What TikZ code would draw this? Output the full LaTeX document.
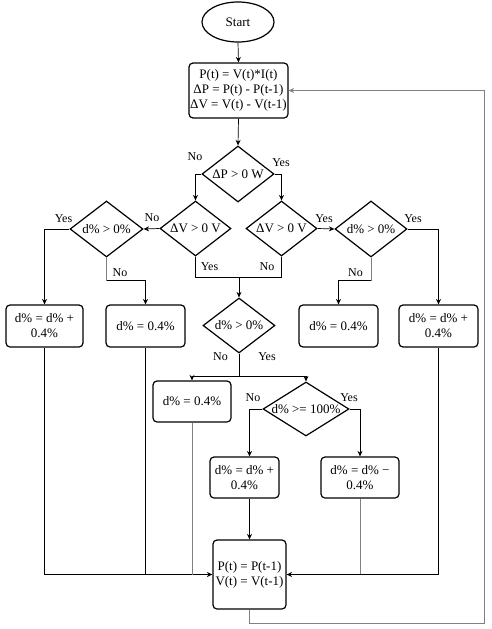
\documentclass[tikz,border=0pt]{standalone}
\usepackage{fontspec}
\setmainfont{Liberation Serif}
\usetikzlibrary{shapes.geometric,arrows.meta,calc}
\begin{document}
\begin{tikzpicture}[x=1pt,y=-1pt,
 box/.style={draw, line width=1.2pt, rounded corners=4pt, align=center, inner sep=0pt, font=\fontsize{13}{15}\selectfont},
 dia/.style={draw, line width=1.2pt, diamond, inner sep=0pt, font=\fontsize{13}{15}\selectfont},
 lab/.style={font=\fontsize{12}{14}\selectfont, inner sep=0pt},
 con/.style={line width=0.7pt, -{Stealth[length=5.5pt,width=5pt]}},
 ln/.style={line width=0.7pt},
 gcon/.style={con, draw=gray},
 gln/.style={ln, draw=gray}
]
\useasboundingbox (0,0) rectangle (491,629);
% nodes
\node[draw, line width=1.2pt, ellipse, minimum width=72pt, minimum height=40pt, inner sep=0pt, font=\fontsize{13}{15}\selectfont] (start) at (238,22) {Start};
\node[box, minimum width=99pt, minimum height=55pt] (b1) at (238.5,90.5) {P(t) = V(t)*I(t)\\ΔP = P(t) - P(t-1)\\ΔV = V(t) - V(t-1)};
\node[dia, minimum width=72pt, minimum height=56pt] (d1) at (238,174) {\makebox[0pt]{ΔP > 0 W}};
\node[dia, minimum width=71pt, minimum height=55pt] (dvl) at (195.5,228.5) {\makebox[0pt]{ΔV > 0 V}};
\node[dia, minimum width=71pt, minimum height=55pt] (dvr) at (281.5,228.5) {\makebox[0pt]{ΔV > 0 V}};
\node[dia, minimum width=73pt, minimum height=56pt] (dl) at (106.5,229) {\makebox[0pt]{d\% > 0\%}};
\node[dia, minimum width=72pt, minimum height=56pt] (dr) at (371,229) {\makebox[0pt]{d\% > 0\%}};
\node[box, minimum width=77pt, minimum height=42pt] (bl1) at (44.5,326) {d\% = d\% +\\0.4\%};
\node[box, minimum width=79pt, minimum height=42pt] (bl2) at (145.5,326) {d\% = 0.4\%};
\node[box, minimum width=79pt, minimum height=42pt] (br1) at (338.5,326) {d\% = 0.4\%};
\node[box, minimum width=79pt, minimum height=42pt] (br2) at (438.5,326) {d\% = d\% +\\0.4\%};
\node[dia, minimum width=72pt, minimum height=55pt] (dc) at (239,325.5) {\makebox[0pt]{d\% > 0\%}};
\node[box, minimum width=78pt, minimum height=41pt] (bc) at (192,401.5) {d\% = 0.4\%};
\node[dia, minimum width=86pt, minimum height=54pt] (d100) at (306,409) {\makebox[0pt]{d\% >= 100\%}};
\node[box, minimum width=69pt, minimum height=41pt] (bd1) at (244.5,477.5) {d\% = d\% +\\0.4\%};
\node[box, minimum width=78pt, minimum height=41pt] (bd2) at (360,477.5) {d\% = d\% −\\0.4\%};
\node[box, minimum width=73pt, minimum height=69pt] (fin) at (249.5,574.5) {P(t) = P(t-1)\\V(t) = V(t-1)};
% labels
\node[lab] (l1) at (195,157) {No};
\node[lab] (l2) at (281,163) {Yes};
\node[lab] (l3) at (63.5,219) {Yes};
\node[lab] (l4) at (152,218) {No};
\node[lab] (l5) at (324,219) {Yes};
\node[lab] (l6) at (413,219) {Yes};
\node[lab] (l7) at (120,273) {No};
\node[lab] (l8) at (209.5,267) {Yes};
\node[lab] (l9) at (267,267) {No};
\node[lab] (l10) at (355.5,273) {No};
\node[lab] (l11) at (220.5,357) {No};
\node[lab] (l12) at (267,357) {Yes};
\node[lab] (l13) at (253,398) {No};
\node[lab] (l14) at (349,398) {Yes};
% connectors
\draw[con] (start.south) -- (b1.north);
\draw[con] (b1.south) -- (d1.north);
\draw[con] (d1.west) -| (dvl.north);
\draw[con] (d1.east) -| (dvr.north);
\draw[con] (dvl.west) -- (dl.east);
\draw[con] (dvr.east) -- (dr.west);
\draw[con] (dl.west) -| (bl1.north);
\draw[gln] (dl.south) -- ++(0,23) coordinate (c1);
\draw[con] (c1) -| (bl2.north);
\draw[gln] (dr.south) -- ++(0,23) coordinate (c2);
\draw[con] (c2) -| (br1.north);
\draw[con] (dr.east) -| (br2.north);
\draw[ln] (dvl.south) -- ++(0,21) coordinate (c3) -| (dvr.south);
\draw[con] (c3 -| dc.north) -- (dc.north);
\draw[ln] (dc.south) -- ++(0,23) coordinate (c4);
\draw[con] (c4) -| (bc.north);
\draw[con] (c4) -| (d100.north);
\draw[con] (d100.west) -| (bd1.north -| fin.north);
\draw[con] (d100.east) -| (bd2.north);
\draw[con] (bd1.south -| fin.north) -- (fin.north);
\draw[con] (bl1.south) |- (fin.west);
\draw[ln] (bl2.south) -- (bl2.south |- fin.west);
\draw[gln] (bc.south) -- (bc.south |- fin.west);
\draw[gln] (bd2.south) -- (bd2.south |- fin.east);
\draw[con] (br2.south) |- (fin.east);
\draw[gcon] (fin.south) -- ++(0,14) -| ($(b1.east)+(196,0)$) -- (b1.east);
\end{tikzpicture}
\end{document}
